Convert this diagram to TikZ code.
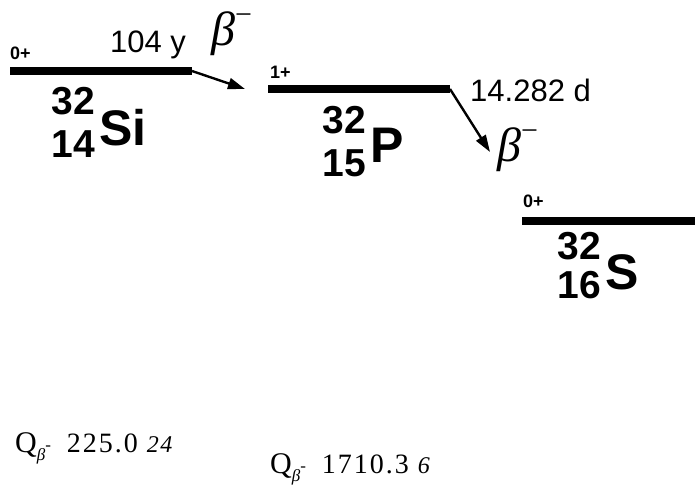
\documentclass[tikz,border=0pt]{standalone}
\usepackage{fontspec}
\setsansfont{Liberation Sans}
\newfontfamily\qfont[LetterSpace=7]{Liberation Serif}
\newfontfamily\betafont{Liberation Serif}
\usetikzlibrary{arrows.meta,positioning}

\newcommand{\betaminus}{{\betafont\itshape β\raisebox{0.42em}{\upshape\fontsize{30}{30}\selectfont −}}}
\newcommand{\qsub}{\raisebox{-0.3em}{\fontsize{17}{17}\selectfont\itshape β\raisebox{0.6em}{\upshape -}}}

\begin{document}
\begin{tikzpicture}[
    x=1pt, y=-1pt,
    font=\sffamily,
    level/.style={line width=7.5pt},
    decay/.style={-{Triangle[length=17pt, width=11pt]}, line width=2.4pt},
    spin/.style={inner sep=0pt, anchor=base west, font=\sffamily\bfseries\fontsize{18}{20}\selectfont},
    halflife/.style={inner sep=0pt, anchor=base west, font=\sffamily\fontsize{31}{34}\selectfont},
    betalbl/.style={inner sep=0pt, anchor=base west, font=\fontsize{48}{50}\selectfont},
    nucnum/.style={inner sep=0pt, anchor=base east, font=\sffamily\bfseries\fontsize{39}{40}\selectfont},
    nucsym/.style={inner sep=0pt, anchor=base west, font=\sffamily\bfseries\fontsize{50}{52}\selectfont},
    qval/.style={inner sep=0pt, anchor=base west, font=\qfont\fontsize{28}{30}\selectfont}
]
    \useasboundingbox (0,0) rectangle (695,491);

    % Levels
    \coordinate (si-l) at (10,71);
    \coordinate (si-r) at (192,71);
    \coordinate (p-l) at (268,89);
    \coordinate (p-r) at (450,89);
    \coordinate (s-l) at (522,221);
    \coordinate (s-r) at (695,221);
    \coordinate (si-tip) at (245,89);
    \coordinate (p-tip) at (490,152);

    \draw[level] (si-l) -- (si-r);
    \draw[level] (p-l) -- (p-r);
    \draw[level] (s-l) -- (s-r);

    % 32Si
    \node[spin] (si-spin) at (10,59) {0+};
    \node[halflife] (si-half) at (110,52) {104 y};
    \node[betalbl] (si-beta) at (211,45) {\betaminus};
    \node[nucnum] (si-a) at (95,114) {32};
    \node[nucnum] (si-z) at (95,157) {14};
    \node[nucsym] (si-x) at (99,145) {Si};

    % 32P
    \node[spin] (p-spin) at (270,78) {1+};
    \node[halflife] (p-half) at (470,101) {14.282 d};
    \node[betalbl] (p-beta) at (497,161) {\betaminus};
    \node[nucnum] (p-a) at (366,133) {32};
    \node[nucnum] (p-z) at (366,176) {15};
    \node[nucsym] (p-x) at (370,162) {P};

    % 32S
    \node[spin] (s-spin) at (523,207) {0+};
    \node[nucnum] (s-a) at (601,259) {32};
    \node[nucnum] (s-z) at (601,298) {16};
    \node[nucsym] (s-x) at (605,289) {S};

    % Decays
    \draw[decay] (si-r) -- (si-tip);
    \draw[decay] (p-r) -- (p-tip);

    % Q values
    \node[qval] (si-q) at (15,452) {{\fontsize{30}{30}\selectfont Q}\qsub\hspace{16pt}225.0 {\itshape\fontsize{24}{24}\selectfont 24}};
    \node[qval] (p-q) at (270,473) {{\fontsize{30}{30}\selectfont Q}\qsub\hspace{16pt}1710.3 {\itshape\fontsize{24}{24}\selectfont 6}};
\end{tikzpicture}
\end{document}
